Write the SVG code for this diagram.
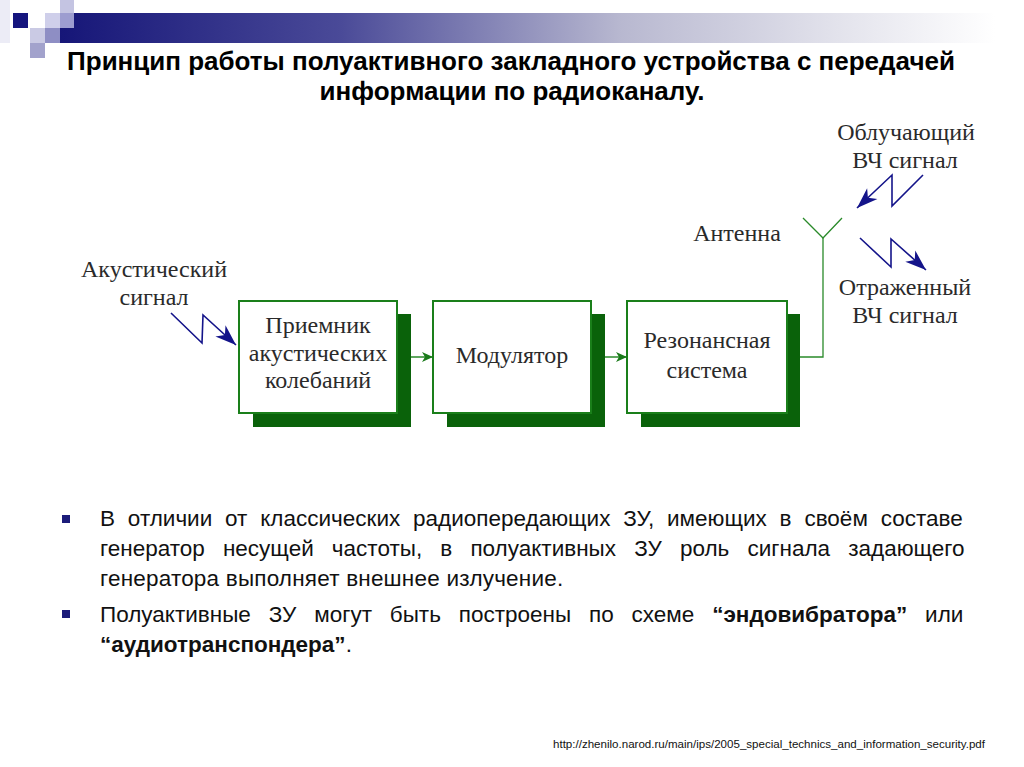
<svg xmlns="http://www.w3.org/2000/svg" width="1024" height="767" viewBox="0 0 1024 767">
  <defs>
    <linearGradient id="barGrad" x1="60" y1="0" x2="995" y2="0" gradientUnits="userSpaceOnUse">
      <stop offset="0" stop-color="#161678"/>
      <stop offset="0.3" stop-color="#4a4a98"/>
      <stop offset="0.6" stop-color="#b8b8d0"/>
      <stop offset="0.85" stop-color="#e6e6ee"/>
      <stop offset="1" stop-color="#ffffff"/>
    </linearGradient>
    <marker id="greenArrow" markerUnits="userSpaceOnUse" markerWidth="14" markerHeight="12" refX="12" refY="6" orient="auto" viewBox="0 0 14 12">
      <path d="M12,6 L1,1 L4,6 L1,11 Z" fill="#1a7a1a"/>
    </marker>
    <marker id="blueArrow" markerUnits="userSpaceOnUse" markerWidth="24" markerHeight="18" refX="22" refY="9" orient="auto" viewBox="0 0 24 18">
      <path d="M22,9 L1,1.5 L7,9 L1,16.5 Z" fill="#14148a"/>
    </marker>
  </defs>
  <style>
    .box { fill: #ffffff; stroke: #1a7f1a; stroke-width: 2; }
    .shadow { fill: #0a620a; }
    .boxText { font-family: "Liberation Serif", "Times New Roman", serif; font-size: 24px; fill: #2a2a2a; text-anchor: middle; }
    .label { font-family: "Liberation Serif", "Times New Roman", serif; font-size: 24px; fill: #2a2a2a; text-anchor: middle; }
    .conn { fill: none; stroke: #2a8a2a; stroke-width: 1.3; }
    .bolt { fill: none; stroke: #14148a; stroke-width: 1.6; }
    .title { font-family: "Liberation Sans", Arial, sans-serif; font-size: 26px; font-weight: bold; fill: #000; text-anchor: middle; }
    .body { font-family: "Liberation Sans", Arial, sans-serif; font-size: 22.5px; fill: #111; }
    .bullet { fill: #1c1c7a; }
  </style>

  <g id="header">
    <rect x="0" y="0" width="10" height="43" fill="#ececf6"/>
    <rect x="60" y="13" width="935" height="30" fill="url(#barGrad)"/>
    <rect x="13" y="13" width="15" height="15" fill="#15157e"/>
    <rect x="60" y="0" width="14" height="13" fill="#c4c4e2"/>
    <rect x="45" y="13" width="15" height="15" fill="#cfcfea"/>
    <rect x="60" y="13" width="14" height="15" fill="#9d9dd0"/>
    <rect x="30" y="28" width="15" height="15" fill="#cacae4"/>
    <rect x="45" y="28" width="15" height="15" fill="#8e8ec4"/>
    <rect x="30" y="43" width="15" height="15" fill="#a2a2cc"/>
  </g>

  <g id="title">
    <text class="title" x="511" y="70">Принцип работы полуактивного закладного устройства с передачей</text>
    <text class="title" x="512" y="100">информации по радиоканалу.</text>
  </g>

  <g id="connectors">
    <line class="conn" x1="397" y1="357" x2="433" y2="357" marker-end="url(#greenArrow)"/>
    <line class="conn" x1="591" y1="357" x2="627" y2="357" marker-end="url(#greenArrow)"/>
    <polyline class="conn" points="787,357 823,357 823,237"/>
    <polyline class="bolt" points="171,313 202,343 203,315 236,345" marker-end="url(#blueArrow)"/>
    <polyline class="bolt" points="923,175 892,206 892,175 857,208" marker-end="url(#blueArrow)"/>
    <polyline class="bolt" points="860,238 891,267 891,239 926,270" marker-end="url(#blueArrow)"/>
  </g>

  <g id="receiver">
    <rect class="shadow" x="253" y="314" width="158" height="113"/>
    <rect class="box" x="239" y="301" width="158" height="112"/>
    <text class="boxText" x="318" y="333">Приемник</text>
    <text class="boxText" x="318" y="361">акустических</text>
    <text class="boxText" x="318" y="388">колебаний</text>
  </g>

  <g id="modulator">
    <rect class="shadow" x="447" y="314" width="158" height="113"/>
    <rect class="box" x="433" y="301" width="158" height="112"/>
    <text class="boxText" x="512" y="363">Модулятор</text>
  </g>

  <g id="resonant">
    <rect class="shadow" x="641" y="314" width="159" height="113"/>
    <rect class="box" x="627" y="301" width="160" height="112"/>
    <text class="boxText" x="707" y="348">Резонансная</text>
    <text class="boxText" x="707" y="378">система</text>
  </g>

  <g id="antenna">
    <polyline class="conn" points="803,218 823,238 842,218"/>
    <text class="label" x="737" y="241">Антенна</text>
  </g>

  <g id="acoustic-label">
    <text class="label" x="154" y="277">Акустический</text>
    <text class="label" x="154" y="305">сигнал</text>
  </g>

  <g id="incident-label">
    <text class="label" x="906" y="140">Облучающий</text>
    <text class="label" x="905" y="168">ВЧ сигнал</text>
  </g>

  <g id="reflected-label">
    <text class="label" x="905" y="295">Отраженный</text>
    <text class="label" x="905" y="323">ВЧ сигнал</text>
  </g>

  <g id="bullets">
    <rect class="bullet" x="62" y="515" width="8" height="8"/>
    <rect class="bullet" x="62" y="610" width="8" height="8"/>
    <text class="body" x="100" y="526" word-spacing="6.6">В отличии от классических радиопередающих ЗУ, имеющих в своём составе</text>
    <text class="body" x="100" y="556" word-spacing="11.9">генератор несущей частоты, в полуактивных ЗУ роль сигнала задающего</text>
    <text class="body" x="100" y="586" letter-spacing="0.2">генератора выполняет внешнее излучение.</text>
    <text class="body" x="100" y="622" word-spacing="11.6">Полуактивные ЗУ могут быть построены по схеме <tspan font-weight="bold">“эндовибратора”</tspan> или</text>
    <text class="body" x="100" y="652"><tspan font-weight="bold">“аудиотранспондера”</tspan>.</text>
  </g>

  <g id="source">
    <text x="553" y="748" font-family="Liberation Sans, Arial, sans-serif" font-size="10.5" fill="#111" textLength="432" lengthAdjust="spacingAndGlyphs">http://zhenilo.narod.ru/main/ips/2005_special_technics_and_information_security.pdf</text>
  </g>
</svg>
